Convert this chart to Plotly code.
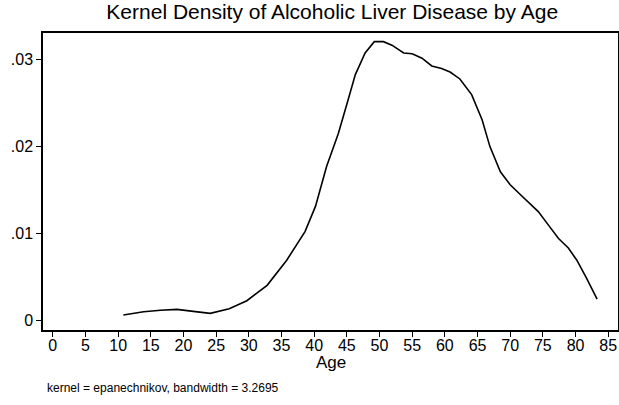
import plotly.graph_objects as go

# kernel density estimate (age, density)
age = [10.8, 13.9, 16.5, 19.0, 21.5, 24.1, 27.0, 29.7, 32.8, 35.8, 38.6, 40.2,
       41.9, 43.7, 45.2, 46.3, 47.8, 49.2, 50.6, 51.9, 53.7, 55.0, 56.5, 58.0,
       59.5, 60.8, 62.3, 64.1, 65.7, 66.9, 68.5, 70.0, 71.5, 72.6, 74.3, 75.8,
       77.4, 78.9, 80.2, 81.7, 83.3]
density = [0.00058, 0.00096, 0.00112, 0.00123, 0.00100, 0.00077, 0.00130, 0.00223,
           0.0040, 0.0069, 0.0102, 0.0131, 0.0177, 0.0215, 0.0254, 0.0283, 0.0308,
           0.0321, 0.0321, 0.0317, 0.0308, 0.0307, 0.0302, 0.0293, 0.0290, 0.0286,
           0.0278, 0.0260, 0.0231, 0.0200, 0.0171, 0.0156, 0.0145, 0.0137, 0.0125,
           0.0110, 0.0094, 0.0083, 0.0069, 0.0048, 0.0024]

x_ticks = list(range(0, 90, 5))
y_ticks = [0, 0.01, 0.02, 0.03]
y_labels = ['0', '.01', '.02', '.03']

font = 'Liberation Sans, Arial, sans-serif'

fig = go.Figure()
fig.add_trace(go.Scatter(x=age, y=density, mode='lines',
                         line=dict(color='#000000', width=1.6), showlegend=False))

fig.update_layout(
    width=619, height=405,
    margin=dict(l=43, r=1, t=33, b=75),
    paper_bgcolor='white', plot_bgcolor='white',
    font=dict(family=font, color='#000000'),
    title=dict(text='Kernel Density of Alcoholic Liver Disease by Age',
               xref='paper', x=0.503, xanchor='center', y=0.99, yanchor='top',
               pad=dict(t=0), automargin=False,
               font=dict(size=21, family=font, color='#000000')),
)
fig.update_xaxes(range=[-1.5, 86.5], tickvals=x_ticks, ticks='outside', ticklen=5,
                 tickwidth=1, tickcolor='#000000', showgrid=False, zeroline=False,
                 showline=True, linecolor='#000000', linewidth=1.5, mirror=True,
                 automargin=False, ticklabelstandoff=-5, tickfont=dict(size=16))
fig.update_yaxes(range=[-0.00115, 0.0331], tickvals=y_ticks, ticktext=y_labels,
                 ticks='outside', ticklen=5, tickwidth=1, tickcolor='#000000',
                 showgrid=False, zeroline=False, showline=True, linecolor='#000000',
                 linewidth=1.5, mirror=True, automargin=False, tickfont=dict(size=16))

fig.add_annotation(text='Age', xref='paper', yref='paper', x=0.5, y=-0.11,
                   xanchor='center', yanchor='middle', showarrow=False,
                   font=dict(size=17, family=font, color='#000000'))
fig.add_annotation(text='kernel = epanechnikov, bandwidth = 3.2695', xref='paper', yref='paper',
                   x=0.0035, y=-0.195, xanchor='left', yanchor='middle', showarrow=False,
                   font=dict(size=12, family=font, color='#000000'))

# drop the default page margin so the figure sits at the window's corner
fig.write_html("out.html", config={'displayModeBar': False},
               post_script="document.body.style.margin='0';")
